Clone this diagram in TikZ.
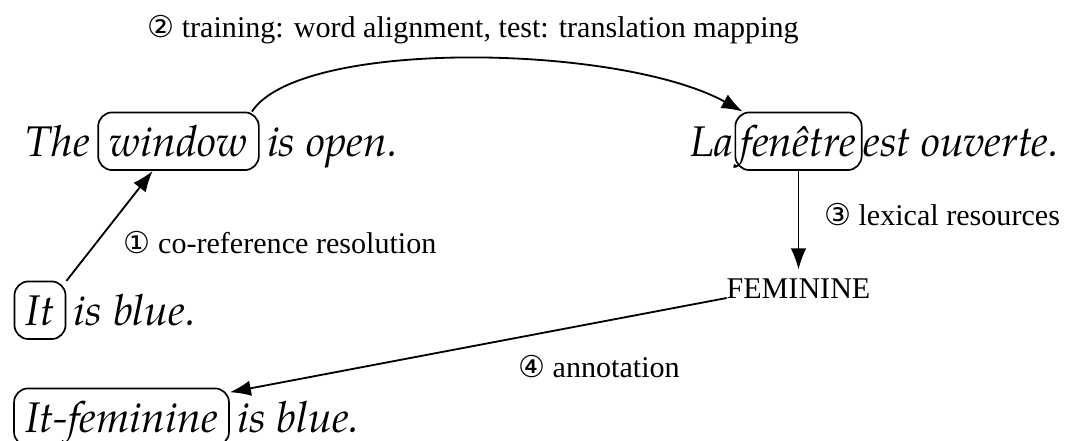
\documentclass[tikz,border=0pt]{standalone}
\usepackage{fontspec}
\setmainfont{Liberation Serif}
\newfontfamily\sentfont{texgyrepagella-italic.otf}
\newfontfamily\circfont{DejaVu Sans}
\usetikzlibrary{positioning,arrows.meta}
\newcommand{\cnum}[1]{{\circfont #1}}

\begin{document}
\begin{tikzpicture}[x=0.025cm,y=-0.025cm,
    sent/.style={font=\sentfont\fontsize{30.5}{36}\selectfont,inner sep=0pt},
    wordbox/.style={sent,draw,rounded corners=10pt,line width=1.2pt,inner xsep=8pt,inner ysep=3pt,text height=28pt,text depth=7pt},
    lbl/.style={font=\fontsize{21.4}{25}\selectfont,inner sep=0pt},
    arr/.style={-{Latex[length=15pt,width=11pt]},line width=1.3pt}]
    \useasboundingbox (0,0) rectangle (1067,441);

    % english sentence
    \node[wordbox,anchor=base] (win) at (178.5,156) {window};
    \node[sent,base left=5pt of win] (the) {The};
    \node[sent,base right=5pt of win] (open) {is open.};

    % french sentence
    \node[wordbox,anchor=base,inner xsep=4pt] (fen) at (798.5,156) {fenêtre};
    \node[sent,base left=0.5pt of fen] (la) {La};
    \node[sent,base right=0.5pt of fen] (ouv) {est ouverte.};

    % pronoun sentences
    \node[wordbox,anchor=base] (it) at (40,325) {It};
    \node[sent,base right=5pt of it] (blue) {is blue.};
    \node[wordbox,anchor=base] (itf) at (121.5,432) {It-feminine};
    \node[sent,base right=5pt of itf] (bluef) {is blue.};

    \node[lbl,anchor=base,inner sep=6pt] (fem) at (798.5,298) {FEMININE};

    % step labels
    \node[lbl] (corefl) at (280,243) {\cnum{①} co-reference resolution};
    \node[lbl] (alignl) at (473,30) {\cnum{②} training: word alignment, test: translation mapping};
    \node[lbl] (lexl) at (942,215) {\cnum{③} lexical resources};
    \node[lbl] (annotl) at (599,367) {\cnum{④} annotation};

    \draw[arr] (win.22) .. controls (300,38) and (620,44) .. (fen.152);
    \draw[arr] (it.48) -- (win.-131);
    \draw[arr] (fen.south) -- (fem.north);
    \draw[arr] (fem.text) -- (itf.13);
\end{tikzpicture}
\end{document}
